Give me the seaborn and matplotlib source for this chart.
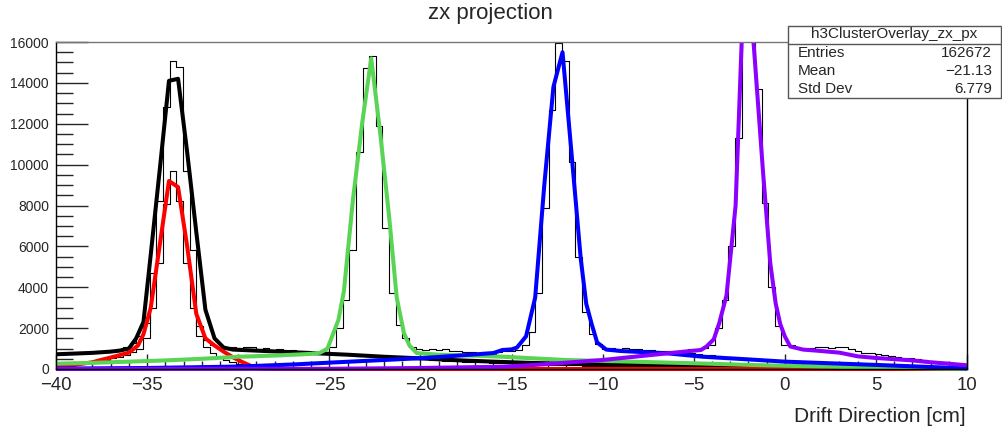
import numpy as np
import pandas as pd
import matplotlib
matplotlib.use("Agg")
import matplotlib.pyplot as plt
from matplotlib.patches import Rectangle
from matplotlib.lines import Line2D
from matplotlib.ticker import MultipleLocator
import seaborn as sns

# histogram binning: 0.365 cm bins, one bin centred on 0
bin_w = 0.365
edges = (np.arange(-110, 28) + 0.5) * bin_w
centers = 0.5 * (edges[:-1] + edges[1:])

# per-cluster histograms (thin steps), one value per bin
h_black = [760, 790, 800, 780, 830, 850, 870, 900, 940,
           1000, 1100, 1250, 1600, 2250, 4700, 8200, 12800, 15050, 14800, 9700, 5800, 2100, 1400, 1150, 1050,
           1000, 1080, 1020, 1100, 1060, 980, 1040, 950, 990, 900, 930, 870, 880, 820, 840, 780,
           760, 730, 740, 690, 660, 670, 620, 600, 590, 560, 540, 530, 500, 480, 470, 440, 430, 410, 400, 380,
           360, 350, 330, 320, 310, 290, 280, 270, 260, 250, 240, 230, 220, 215, 200, 195, 185, 180, 170, 165,
           160, 150, 145, 140, 135, 130, 125, 120, 115, 110, 105, 100, 95, 92, 88, 85, 80, 78, 75, 72,
           70, 66, 62, 60, 56, 54, 50, 48, 45, 42, 40, 37, 35, 32, 30, 28, 25, 22, 20, 18,
           16, 15, 14, 12, 11, 10, 9, 8, 7, 6, 5, 4, 4, 3, 2, 1]
# red only populated in the first 34 bins
h_red = [120, 160, 200, 240, 290, 340, 400, 460, 530, 610, 700, 820, 1000,
         1500, 3000, 5200, 8050, 9700, 8200, 5200, 3000, 1600, 1100, 800, 600,
         450, 330, 240, 170, 110, 70, 40, 20, 10]
h_green = [290, 300, 310, 300, 330, 320, 350, 340, 370, 360, 390, 380, 410, 400, 430, 420, 450, 460, 440, 480,
           470, 500, 520, 510, 540, 560, 550, 580, 600, 590, 620, 640, 630, 660, 680, 700, 690, 720, 740,
           760, 850, 1100, 2000, 3400, 5800, 10600, 14750, 15300, 11900, 6900, 3700, 2150, 1500, 1100, 980,
           950, 1000, 930, 960, 900, 880, 850, 820, 800, 760, 720, 700,
           680, 650, 620, 600, 560, 540, 500, 480, 460, 440, 420, 400, 380, 370, 350, 330, 320, 300, 290, 280,
           270, 260, 250, 240, 230, 220, 210, 200, 190, 180, 170, 160, 150, 140, 135, 130, 120, 115, 110, 100,
           95, 90, 85, 80, 75, 70, 65, 60, 56, 52, 48, 44, 40, 36, 32, 28, 25, 22, 19, 16,
           14, 12, 10, 9, 8, 7, 6, 5, 4, 3]
h_blue = [20, 25, 30, 30, 35, 40, 45, 50, 50, 55, 60, 65, 70, 75, 80, 85, 90, 95, 100, 110,
          120, 130, 140, 150, 160, 170, 180, 190, 200, 210, 220, 235, 250, 260, 275, 290, 300, 320, 330, 345,
          360, 375, 390, 410, 420, 440, 455, 470, 490, 510, 520, 540, 560, 580, 600, 620, 640, 670, 690, 710,
          730, 750, 770, 790, 810, 830, 850, 870,
          900, 950, 1150, 1800, 3700, 7900, 12660, 15950, 15050, 10150, 5500, 2800, 1700, 1200, 1000,
          1030, 980, 1010, 960, 990, 940, 920, 900, 880, 850, 820, 800, 760, 730,
          700, 670, 640, 610, 580, 550, 520, 500, 480, 460,
          450, 430, 410, 390, 370, 350, 330, 310, 290, 270, 250, 240, 220, 200, 190, 170, 160, 150, 140, 120,
          110, 100, 90, 80, 70, 60, 55, 50, 45, 40]
# purple starts at bin 30 (about -28.8 cm)
purple_start = 30
h_purple = [5, 8, 10, 12, 14, 16, 18, 20, 22, 25, 28, 30, 33, 36, 40, 43, 47, 50, 55, 60,
            65, 70, 75, 80, 85, 90, 95, 100, 110, 115, 120, 130, 140, 150, 160, 170, 180, 195, 210, 225,
            240, 260, 280, 300, 320, 340, 360, 385, 410, 440, 470, 500, 530, 560, 600, 630, 660, 700, 730, 760,
            800, 830, 860, 900, 930, 960,
            1000, 1050, 1180, 2000, 3390, 6000, 11300, 20500, 19500, 13700, 8100, 4000, 2100, 1180,
            1150, 1050, 1000, 1020, 1060, 1100, 1050, 1080, 1100, 1000, 900, 800, 760, 720, 700, 650, 600,
            560, 520, 480, 440, 400, 360, 320, 280, 240, 200]

# fitted curves (thick lines)
black_x = [-40, -38, -37, -36.5, -36, -35.6, -35.2, -34.8, -34.3, -33.8, -33.3, -32.8, -32.3, -31.8, -31.3,
           -30.8, -30.3, -28, -26, -24, -22, -20, -18, -16, -14, -10, -5, 0, 5, 10]
black_y = [720, 790, 850, 900, 1000, 1500, 2300, 5600, 9800, 14100, 14200, 10600, 6700, 2900, 1500,
           1050, 950, 860, 780, 700, 600, 520, 430, 360, 300, 220, 130, 80, 40, 0]
red_x = [-40, -39, -38, -37.5, -37, -36.5, -36, -35.5, -35.2, -34.8, -34.3, -33.8, -33.3, -32.8, -32.3,
         -31.8, -31.3, -30.8, -30.3, -29.8, -29.3, -28.8, -28, 10]
red_y = [100, 200, 330, 450, 560, 680, 800, 1150, 1700, 3000, 6100, 9200, 8900, 6000, 2700,
         1500, 1150, 850, 580, 350, 150, 30, 0, 0]
green_x = [-40, -38, -36, -34, -32, -30, -28, -26, -25.5, -25.1, -24.8, -24.5, -24.2, -23.7, -23.2, -22.7,
           -22.2, -21.7, -21.3, -20.9, -20.6, -20.2, -19, -17, -15.5, -12, -8, -5, -2, 2, 6, 10]
green_y = [260, 300, 360, 420, 500, 600, 660, 740, 800, 1000, 1700, 2400, 3800, 8300, 12000, 15200,
           11500, 7300, 3500, 1750, 1150, 780, 700, 650, 600, 440, 350, 280, 200, 120, 50, 0]
blue_x = [-40, -35, -30, -27, -25, -22, -20, -18, -16, -15.5, -15, -14.7, -14.2, -13.7, -13.2, -12.7,
          -12.2, -11.7, -11.2, -10.9, -10.6, -10.3, -9.8, -9, -6.5, -4.5, -2, 0, 5, 10]
blue_y = [20, 50, 120, 220, 310, 440, 530, 650, 780, 930, 960, 1050, 1600, 3500, 9000, 13800,
          15500, 10500, 5400, 3200, 2200, 1300, 950, 880, 770, 600, 470, 360, 200, 30]
purple_x = [-40, -25, -20, -15.5, -13.7, -10, -6.4, -4.6, -4.3, -3.9, -3.6, -3.2, -2.7, -2.2, -1.7, -1.2,
            -0.8, -0.5, -0.25, 0, 0.3, 1, 2, 3, 4, 5, 6, 7, 8, 9, 10]
purple_y = [0, 10, 50, 110, 200, 440, 770, 930, 1100, 1450, 2240, 3600, 8000, 20000, 15800, 9700,
            5200, 3200, 2200, 1600, 1100, 950, 880, 800, 620, 540, 480, 420, 330, 260, 180]

stats_name = "h3ClusterOverlay_zx_px"
stats_rows = [("Entries", "162672"), ("Mean", "\u221221.13"), ("Std Dev", "6.779")]

sns.set_style("ticks")
plt.rcParams["font.family"] = ["Liberation Sans", "DejaVu Sans"]

fig = plt.figure(figsize=(10.02, 4.33), dpi=100)
ax = fig.add_axes([56 / 1002, 64 / 433, 911 / 1002, 327 / 433])

# thin step histograms
for vals, lo in [(h_black, 0), (h_red, 0), (h_green, 0), (h_blue, 0), (h_purple, purple_start)]:
    n = len(vals)
    df = pd.DataFrame({"x": centers[lo:lo + n], "w": vals})
    sns.histplot(data=df, x="x", weights="w", bins=edges[lo:lo + n + 1].tolist(), element="step",
                 fill=False, color="black", linewidth=0.8, ax=ax)

# thick curves
curves = [(black_x, black_y, "#000000"), (red_x, red_y, "#ff0000"), (green_x, green_y, "#59d454"),
          (blue_x, blue_y, "#0000ff"), (purple_x, purple_y, "#8c00ff")]
for cx, cy, col in curves:
    sns.lineplot(x=cx, y=cy, color=col, linewidth=2.9, ax=ax)

# allow lines along y=0 to show fully, but clip at the top
clip = Rectangle((0, -0.03), 1, 1.03, transform=ax.transAxes, visible=False)
ax.add_patch(clip)
for ln in ax.lines:
    ln.set_clip_path(clip)

ax.set_xlim(-40, 10)
ax.set_ylim(0, 16000)
ax.set_xlabel("")
ax.set_ylabel("")
ax.xaxis.set_major_locator(MultipleLocator(5))
ax.xaxis.set_minor_locator(MultipleLocator(1))
ax.yaxis.set_major_locator(MultipleLocator(2000))
ax.yaxis.set_minor_locator(MultipleLocator(500))
ax.tick_params(axis="y", which="major", direction="in", length=23, width=1, labelsize=10, pad=5)
ax.tick_params(axis="y", which="minor", direction="in", length=12, width=1)
ax.tick_params(axis="x", which="major", direction="in", length=11, width=1, labelsize=13.4, pad=5.5)
ax.tick_params(axis="x", which="minor", direction="in", length=6, width=1)
for s in ["left", "bottom", "right"]:
    ax.spines[s].set_color("black")
    ax.spines[s].set_linewidth(1)
ax.spines["top"].set_color("#777777")
ax.spines["top"].set_linewidth(1)

fig.text(490 / 1002, 1 - 13 / 433, "zx projection", ha="center", va="center", fontsize=16)
fig.text(966 / 1002, 1 - 416 / 433, "Drift Direction [cm]", ha="right", va="center", fontsize=15)

# stats box
bx0, bx1, by0, by1 = 788 / 1002, 1001 / 1002, 1 - 98 / 433, 1 - 26 / 433
fig.add_artist(Rectangle((bx0, by0), bx1 - bx0, by1 - by0, transform=fig.transFigure,
                         facecolor="white", edgecolor="#555555", linewidth=1, zorder=10))
fig.add_artist(Line2D([bx0, bx1], [1 - 44 / 433] * 2, transform=fig.transFigure,
                      color="#555555", linewidth=1, zorder=11))
fig.text((bx0 + bx1) / 2, 1 - 34 / 433, stats_name, ha="center", va="center", fontsize=11, zorder=12)
for k, (lab, val) in enumerate(stats_rows):
    yy = 1 - (53 + 18 * k) / 433
    fig.text(798 / 1002, yy, lab, ha="left", va="center", fontsize=11, zorder=12)
    fig.text(992 / 1002, yy, val, ha="right", va="center", fontsize=11, zorder=12)

fig.savefig("out.png", dpi=100)
